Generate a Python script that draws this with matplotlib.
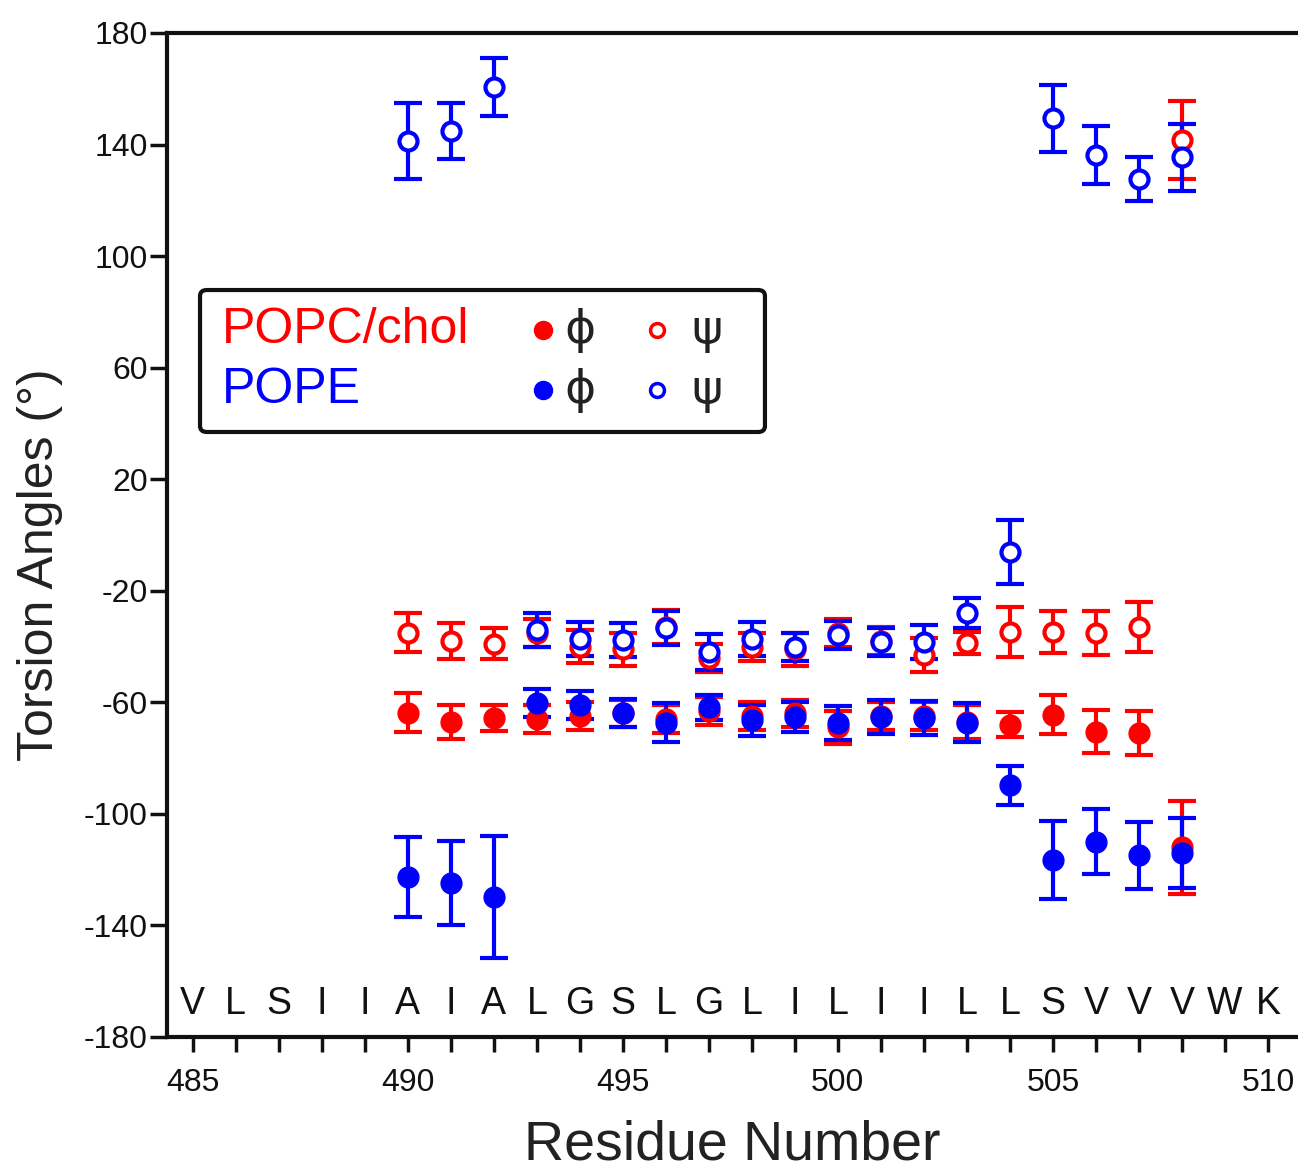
import matplotlib
matplotlib.use("Agg")
import matplotlib.pyplot as plt
from matplotlib.patches import FancyBboxPatch

plt.rcParams['font.family'] = ['Liberation Sans', 'DejaVu Sans']
plt.rcParams['axes.unicode_minus'] = False

residues = list(range(490, 509))

popc_phi = [-63.8, -67.0, -65.6, -66.0, -65.0, -64.0, -66.0, -63.0, -65.0, -64.0,
            -69.0, -65.0, -65.0, -67.0, -68.0, -64.5, -70.6, -71.0, -112.0]
popc_phi_err = [7, 6, 4.5, 5, 5, 5, 5, 5, 5, 5, 6, 5, 5, 6, 4.5, 7, 7.7, 8, 16.7]
popc_psi = [-35.0, -38.0, -39.0, -35.0, -40.0, -41.0, -33.0, -44.0, -40.0, -41.0,
            -35.0, -38.0, -43.0, -38.7, -34.8, -34.8, -35.2, -33.0, 141.5]
popc_psi_err = [7, 6.5, 5.5, 5, 6, 6, 6, 5, 5, 6, 5, 5, 6, 4, 9, 7.5, 8, 9, 14]

pope_phi = [-122.7, -124.8, -129.8, -60.3, -61.0, -63.8, -67.4, -61.7, -66.4, -65.3,
            -67.4, -65.3, -65.6, -67.4, -89.7, -116.6, -110.0, -114.8, -114.0]
pope_phi_err = [14.3, 15, 22, 5, 5, 5, 7, 4.5, 5.5, 5.5, 6, 6, 6, 7, 7, 14, 11.6, 12, 12.7]
pope_psi = [141.3, 144.9, 160.6, -34.1, -37.3, -37.7, -33.4, -42.0, -37.3, -40.3,
            -35.9, -38.4, -38.4, -28.0, -6.1, 149.5, 136.3, 127.6, 135.5]
pope_psi_err = [13.5, 10, 10.4, 6, 6, 6, 6, 6.5, 6, 5, 5, 5, 6, 5.5, 11.5, 12, 10.4, 8, 12]

seq_positions = list(range(485, 511))
sequence = list("VLSIIAIALGSLGLILIILLSVVVWK")

yticks = [180, 140, 100, 60, 20, -20, -60, -100, -140, -180]
xticks = [485, 490, 495, 500, 505, 510]

RED = '#ff0000'
BLUE = '#0000ff'

fig = plt.figure(figsize=(12.98, 11.71), dpi=100)
ax = fig.add_axes([167/1298, 134/1171, 1 - 167/1298, 1004/1171])

ebkw = dict(linestyle='none', elinewidth=3, capsize=10, capthick=3)

for phi, phie, psi, psie, col in [(popc_phi, popc_phi_err, popc_psi, popc_psi_err, RED),
                                  (pope_phi, pope_phi_err, pope_psi, pope_psi_err, BLUE)]:
    ax.errorbar(residues, phi, yerr=phie, fmt='o', color=col, ecolor=col,
                markersize=15, markerfacecolor=col, markeredgecolor=col, **ebkw)
    ax.errorbar(residues, psi, yerr=psie, fmt='o', color=col, ecolor=col,
                markersize=13, markerfacecolor='white', markeredgecolor=col,
                markeredgewidth=3, **ebkw)

for xp, letter in zip(seq_positions, sequence):
    ax.text(xp, -168, letter, ha='center', va='center', fontsize=27, color='#111111')

ax.set_xlim(484.4, 510.7)
ax.set_ylim(-180, 180)
ax.set_yticks(yticks)
ax.set_xticks(xticks)
ax.set_xticks(range(485, 511), minor=True)
ax.tick_params(axis='both', which='both', direction='out', width=2.5, colors='#111111')
ax.tick_params(axis='y', which='major', length=12, labelsize=23, pad=2)
ax.tick_params(axis='x', which='both', length=11, labelsize=23, pad=11)
ax.tick_params(axis='y', which='minor', left=False)
ax.spines['right'].set_visible(False)
for s in ['left', 'bottom', 'top']:
    ax.spines[s].set_linewidth(3)
    ax.spines[s].set_color('#111111')

ax.set_xlabel('Residue Number', fontsize=40, color='#222222', labelpad=16)
ax.set_ylabel('Torsion Angles (°)', fontsize=36, color='#222222')
ax.yaxis.set_label_coords(-0.092, 0.47)

# legend box
box = FancyBboxPatch((0.0292, 0.6026), 0.4995, 0.1414, boxstyle='round,pad=0,rounding_size=0.006',
                     transform=ax.transAxes, facecolor='white', edgecolor='#111111',
                     linewidth=3, zorder=5)
ax.add_patch(box)
ax.text(0.0486, 0.704, 'POPC/chol', color=RED, fontsize=36, va='center', ha='left',
        transform=ax.transAxes, zorder=6)
ax.text(0.0486, 0.644, 'POPE', color=BLUE, fontsize=36, va='center', ha='left',
        transform=ax.transAxes, zorder=6)
for yy, col in [(0.704, RED), (0.644, BLUE)]:
    ax.plot([0.3324], [yy], 'o', color=col, markersize=13, transform=ax.transAxes, zorder=6)
    ax.plot([0.4332], [yy], 'o', markerfacecolor='white', markeredgecolor=col,
            markeredgewidth=2.5, markersize=10, transform=ax.transAxes, zorder=6)
    ax.text(0.3652, yy, 'ϕ', fontsize=34, color='#222222', ha='center', va='center',
            family=['DejaVu Sans'], transform=ax.transAxes, zorder=6)
    ax.text(0.4775, yy, 'ψ', fontsize=34, color='#222222', ha='center', va='center',
            family=['DejaVu Sans'], transform=ax.transAxes, zorder=6)

fig.savefig('out.png', dpi=100)
